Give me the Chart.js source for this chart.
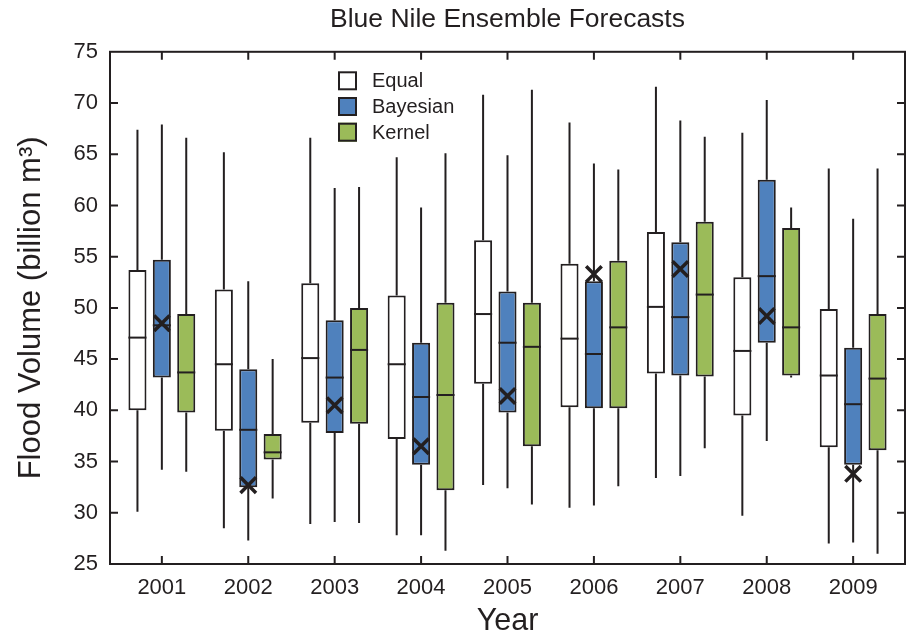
<!DOCTYPE html>
<html>
<head>
<meta charset="utf-8">
<title>Blue Nile Ensemble Forecasts</title>
<script src="https://cdn.jsdelivr.net/npm/chart.js@4.4.1/dist/chart.umd.min.js"></script>
<style>
  html, body { margin: 0; padding: 0; background: #fff; }
  #wrap { width: 908px; height: 636px; }
</style>
</head>
<body>
<div id="wrap"><canvas id="chart" width="908" height="636"></canvas></div>
<script>
// 1. Data (flood volume, billion m3)
const years = [2001, 2002, 2003, 2004, 2005, 2006, 2007, 2008, 2009];
const yMin = 25, yMax = 75, yStep = 5;

// Equal weighting
const equalLow  = [30.1, 28.5, 28.9, 27.8, 32.7, 30.5, 33.4, 29.7, 27.0];
const equalQ1   = [40.0, 38.0, 38.8, 37.2, 42.6, 40.3, 43.6, 39.5, 36.4];
const equalMed  = [47.1, 44.5, 45.1, 44.5, 49.4, 47.0, 50.1, 45.8, 43.4];
const equalQ3   = [53.7, 51.8, 52.4, 51.2, 56.6, 54.3, 57.4, 53.0, 49.9];
const equalHigh = [67.4, 65.2, 66.6, 64.7, 70.8, 68.1, 71.6, 67.1, 63.6];

// Bayesian weighting
const bayesLow  = [34.2, 27.3, 29.1, 27.8, 32.4, 30.7, 33.6, 37.0, 27.1];
const bayesQ1   = [43.2, 32.5, 37.8, 34.7, 39.8, 40.2, 43.4, 46.6, 34.7];
const bayesMed  = [48.3, 38.1, 43.2, 41.3, 46.6, 45.5, 49.1, 53.1, 40.6];
const bayesQ3   = [54.7, 44.0, 48.8, 46.6, 51.6, 52.6, 56.4, 62.5, 46.1];
const bayesHigh = [67.9, 52.6, 61.7, 59.8, 64.9, 64.1, 68.3, 70.3, 58.7];

// Kernel weighting
const kernelLow  = [34.0, 31.4, 29.0, 26.3, 30.8, 32.6, 36.3, 43.2, 26.0];
const kernelQ1   = [39.8, 35.2, 38.7, 32.2, 36.5, 40.2, 43.3, 43.4, 36.1];
const kernelMed  = [43.7, 35.9, 45.9, 41.5, 46.2, 48.1, 51.3, 48.1, 43.1];
const kernelQ3   = [49.4, 37.7, 50.0, 50.5, 50.5, 54.6, 58.4, 57.8, 49.4];
const kernelHigh = [66.6, 45.0, 61.8, 65.1, 71.3, 63.5, 66.7, 59.8, 63.6];

// Observed flood volume (the X marks)
const observed = [48.5, 32.7, 40.5, 36.5, 41.4, 53.3, 53.8, 49.2, 33.8];

// 2. Styling
const ink = '#231f20';
const fontFamily = '"Liberation Sans", Arial, Helvetica, sans-serif';
Chart.defaults.font.family = fontFamily;
Chart.defaults.color = ink;

const boxes = (label, color, q1, q3, low, med, high) => ({
    type: 'bar',
    label,
    data: q1.map((v, i) => [v, q3[i]]),
    low, med, high,
    backgroundColor: color,
    borderColor: ink,
    borderWidth: 2,
    borderSkipped: false,
    categoryPercentage: 0.847,
    barPercentage: 0.74,
    order: 0
});

// 3. Plugins: whiskers + medians, frame with inward ticks, legend
const boxPlot = {
    id: 'boxPlot',
    beforeDatasetDraw(chart, args) {
        const ds = chart.data.datasets[args.index];
        if (!ds.low) return;
        const y = chart.scales.y;
        const ctx = chart.ctx;
        ctx.save();
        ctx.strokeStyle = ink;
        ctx.lineWidth = 2;
        args.meta.data.forEach((bar, i) => {
            ctx.beginPath();
            ctx.moveTo(bar.x, y.getPixelForValue(ds.low[i]));
            ctx.lineTo(bar.x, y.getPixelForValue(ds.data[i][0]));
            ctx.moveTo(bar.x, y.getPixelForValue(ds.data[i][1]));
            ctx.lineTo(bar.x, y.getPixelForValue(ds.high[i]));
            ctx.stroke();
        });
        ctx.restore();
    },
    afterDatasetDraw(chart, args) {
        const ds = chart.data.datasets[args.index];
        if (!ds.med) return;
        const y = chart.scales.y;
        const ctx = chart.ctx;
        ctx.save();
        ctx.strokeStyle = ink;
        ctx.lineWidth = 2;
        args.meta.data.forEach((bar, i) => {
            const py = y.getPixelForValue(ds.med[i]);
            ctx.beginPath();
            ctx.moveTo(bar.x - bar.width / 2, py);
            ctx.lineTo(bar.x + bar.width / 2, py);
            ctx.stroke();
        });
        ctx.restore();
    }
};

const frame = {
    id: 'frame',
    afterDraw(chart) {
        const {ctx, chartArea: a, scales: {x, y}} = chart;
        const len = 8;
        ctx.save();
        ctx.strokeStyle = ink;
        ctx.lineWidth = 2;
        ctx.strokeRect(a.left, a.top, a.right - a.left, a.bottom - a.top);
        ctx.beginPath();
        x.ticks.forEach((t, i) => {
            const px = x.getPixelForTick(i);
            ctx.moveTo(px, a.bottom); ctx.lineTo(px, a.bottom - len);
            ctx.moveTo(px, a.top); ctx.lineTo(px, a.top + len);
        });
        y.ticks.forEach((t, i) => {
            if (t.value === yMin || t.value === yMax) return;
            const py = y.getPixelForTick(i);
            ctx.moveTo(a.left, py); ctx.lineTo(a.left + len, py);
            ctx.moveTo(a.right, py); ctx.lineTo(a.right - len, py);
        });
        ctx.stroke();
        ctx.restore();
    }
};

const boxLegend = {
    id: 'boxLegend',
    afterDraw(chart) {
        const {ctx, chartArea: a} = chart;
        const x0 = a.left + 228, y0 = a.top + 29, row = 25.7, sq = 19;
        ctx.save();
        ctx.font = '20px ' + fontFamily;
        ctx.textBaseline = 'middle';
        chart.data.datasets.filter(d => d.type === 'bar').forEach((d, i) => {
            const cy = y0 + i * row;
            ctx.fillStyle = d.backgroundColor;
            ctx.fillRect(x0, cy - sq / 2, sq, sq);
            ctx.strokeStyle = ink;
            ctx.lineWidth = 2;
            ctx.strokeRect(x0 + 1, cy - sq / 2 + 1, sq - 2, sq - 2);
            ctx.fillStyle = ink;
            ctx.fillText(d.label, x0 + sq + 15, cy + 1);
        });
        ctx.restore();
    }
};

// 4. Chart
new Chart(document.getElementById('chart'), {
    data: {
        labels: years,
        datasets: [
            boxes('Equal', '#ffffff', equalQ1, equalQ3, equalLow, equalMed, equalHigh),
            boxes('Bayesian', '#4f81bd', bayesQ1, bayesQ3, bayesLow, bayesMed, bayesHigh),
            boxes('Kernel', '#9bbb59', kernelQ1, kernelQ3, kernelLow, kernelMed, kernelHigh),
            {
                type: 'line',
                label: 'Observed',
                data: observed,
                showLine: false,
                pointStyle: 'crossRot',
                pointRadius: 11,
                pointBorderWidth: 3.5,
                pointBorderColor: ink,
                borderColor: ink,
                order: -1
            }
        ]
    },
    options: {
        responsive: false,
        animation: false,
        layout: { autoPadding: false, padding: { top: 0, right: 3, bottom: 0, left: 0 } },
        plugins: {
            legend: { display: false },
            tooltip: { enabled: false },
            title: {
                display: true,
                text: 'Blue Nile Ensemble Forecasts',
                fullSize: false,
                color: ink,
                font: { size: 26.5, weight: 'normal' },
                padding: { top: 4, bottom: 16 }
            }
        },
        scales: {
            x: {
                type: 'linear',
                offset: false,
                min: 2000.4,
                max: 2009.6,
                grid: { display: false, drawTicks: false, offset: false },
                border: { display: false },
                ticks: {
                    stepSize: 1,
                    includeBounds: false,
                    padding: 11,
                    font: { size: 22 },
                    color: ink,
                    callback: v => String(v)
                },
                title: {
                    display: true,
                    text: 'Year',
                    font: { size: 30.5 },
                    color: ink,
                    padding: { top: 0, bottom: -4 }
                },
                afterFit: s => {
                    s.height = 72;
                    s.paddingLeft = 0;
                    s.paddingRight = 0;
                }
            },
            y: {
                min: yMin,
                max: yMax,
                grid: { display: false, drawTicks: false },
                border: { display: false },
                ticks: {
                    stepSize: yStep,
                    padding: 12,
                    font: { size: 22 },
                    color: ink
                },
                title: {
                    display: true,
                    text: 'Flood Volume (billion m³)',
                    font: { size: 31 },
                    color: ink,
                    padding: { top: 12.5, bottom: 0 }
                },
                afterFit: s => { s.width = 110; }
            }
        }
    },
    plugins: [boxPlot, frame, boxLegend]
});
</script>
</body>
</html>
